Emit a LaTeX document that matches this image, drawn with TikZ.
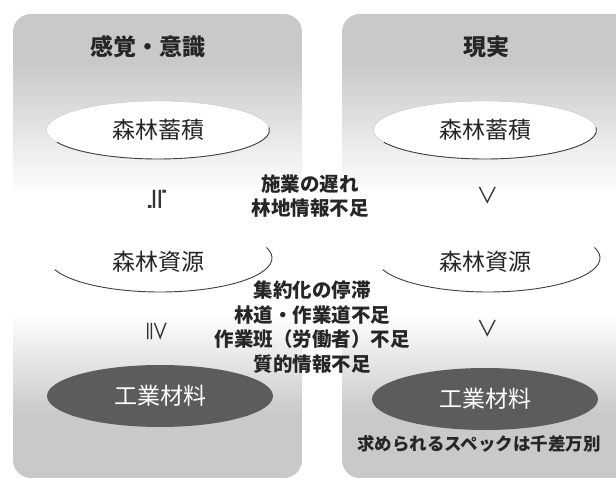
\documentclass[tikz,border=0pt]{standalone}
\usepackage{fontspec}
\setmainfont{Noto Sans CJK JP}
\newfontfamily\symf{DejaVu Sans}
\usetikzlibrary{shapes.geometric}
\definecolor{pg}{gray}{0.79}
\definecolor{dk}{gray}{0.36}
\tikzset{
  title/.style={font=\fontsize{23}{27}\selectfont\bfseries, text=black!85},
  whiteell/.style={ellipse, fill=white, draw=gray!45, line width=0.4pt, minimum width=223pt, minimum height=58pt, inner sep=0pt},
  darkell/.style={ellipse, fill=dk, minimum width=226pt, minimum height=62pt, inner sep=0pt, text=white, font=\fontsize{23}{27}\selectfont},
  label/.style={font=\fontsize{23}{27}\selectfont, text=black!85},
  midtext/.style={font=\fontsize{19.5}{24.5}\selectfont\bfseries, align=center, text=black!85},
  rel/.style={font=\fontsize{22}{24}\selectfont, text=black!80},
  edge/.style={line width=0.9pt, draw=black!75},
}
\newcommand{\panelfill}[2]{%
  \begin{scope}
  \clip[rounded corners=18pt] (#1,6) rectangle (#2,470);
  \fill[pg] (#1,420) rectangle (#2,470);
  \shade[top color=pg, bottom color=white] (#1,290) rectangle (#2,420.5);
  \fill[white] (#1,170) rectangle (#2,290.5);
  \shade[top color=white, bottom color=pg] (#1,70) rectangle (#2,170.5);
  \fill[pg] (#1,6) rectangle (#2,70.5);
  \end{scope}}
\begin{document}
\begin{tikzpicture}[x=1pt,y=1pt]
\useasboundingbox (0,0) rectangle (616,484);
\begin{scope}
\clip (0,0) rectangle (616,484);
\panelfill{13}{302}
\panelfill{342}{650}
\end{scope}
% titles
\node[title] (tL) at (148,437) {感覚・意識};
\node[title] (tR) at (486,437) {現実};
% top ellipses
\node[whiteell, label] (s1L) at (158,354) {森林蓄積};
\node[whiteell, label] (s1R) at (485,354) {森林蓄積};
\draw[edge] (s1L.center) ++(205:111.5 and 29) arc[start angle=205, end angle=365, x radius=111.5, y radius=29];
\draw[edge] (s1R.center) ++(205:111.5 and 29) arc[start angle=205, end angle=365, x radius=111.5, y radius=29];
% relation symbols 1
\node[rel, font=\symf\fontsize{29}{30}\selectfont, rotate=90] (r1L) at (157,285) {≒};
\node[rel, rotate=-90] (r1R) at (488,288) {＞};
% middle text 1
\node[midtext] (m1) at (310,288) {施業の遅れ\\林地情報不足};
% 森林資源
\node[label] (s2L) at (158,222) {森林資源};
\node[label] (s2R) at (485,222) {森林資源};
\draw[edge] (160,226) ++(200:112 and 34) arc[start angle=200, end angle=378, x radius=112, y radius=34];
\draw[edge] (488,226) ++(200:112 and 34) arc[start angle=200, end angle=378, x radius=112, y radius=34];
% relation symbols 2
\node[rel, rotate=-90] (r2L) at (157,152) {≧};
\node[rel, rotate=-90] (r2R) at (488,155) {＞};
% middle text 2
\node[midtext] (m2) at (312,157) {集約化の停滞\\林道・作業道不足\\作業班（労働者）不足\\質的情報不足};
% dark ellipses
\node[darkell] (s3L) at (160,88) {工業材料};
\node[darkell] (s3R) at (485,85) {工業材料};
% bottom note
\node[font=\fontsize{17.5}{20}\selectfont\bfseries, text=black!85] (note) at (479,40) {求められるスペックは千差万別};
\end{tikzpicture}
\end{document}
